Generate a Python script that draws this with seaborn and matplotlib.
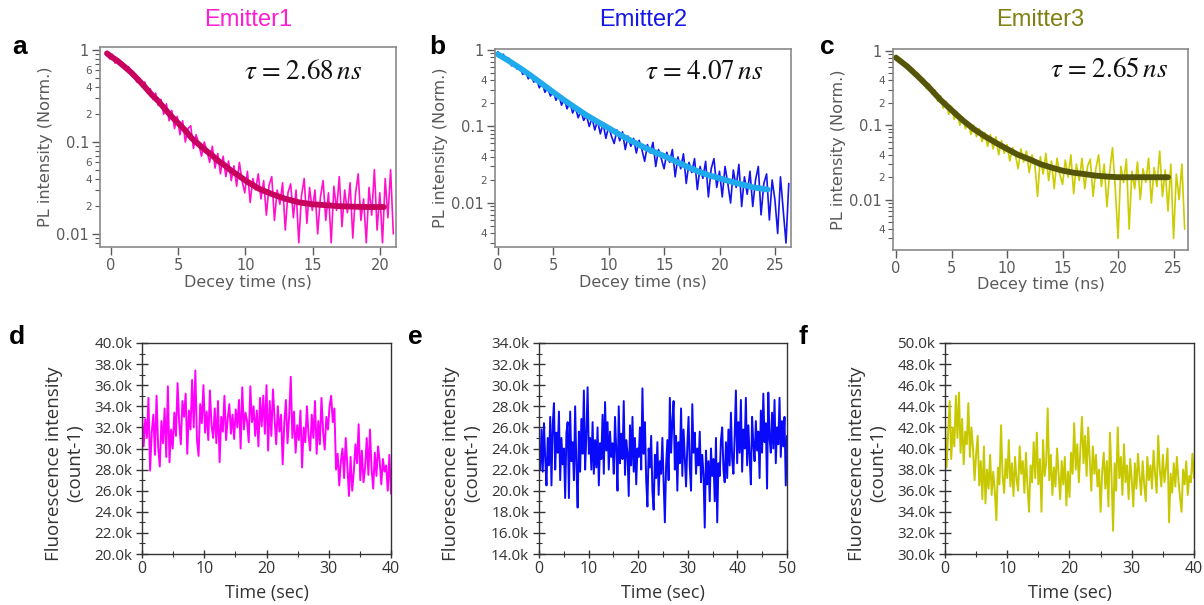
import numpy as np
import matplotlib
matplotlib.use("Agg")
import matplotlib.pyplot as plt
import seaborn as sns
from matplotlib.ticker import LogLocator, FixedLocator, FuncFormatter, MultipleLocator

sns.set_theme(style="ticks")
plt.rcParams['font.family'] = ['DejaVu Sans']
plt.rcParams['mathtext.fontset'] = 'stix'

# ---------------- data ----------------
titles = ["Emitter1", "Emitter2", "Emitter3"]
taus = ["2.68", "4.07", "2.65"]

# decay traces (PL intensity, normalized), uniformly sampled between start and end
a_t_range = [-0.3, 21.0]
a_pl = [0.95, 0.80, 0.90, 0.72, 0.80, 0.68, 0.70,
        0.60, 0.66, 0.53, 0.57, 0.45, 0.50, 0.40, 0.45, 0.34, 0.38,
        0.29, 0.34, 0.25, 0.29, 0.20, 0.26, 0.17, 0.22, 0.14, 0.19,
        0.12, 0.17, 0.10, 0.14, 0.15, 0.085, 0.12, 0.095, 0.07, 0.10,
        0.08, 0.06, 0.09, 0.052, 0.075, 0.045, 0.07, 0.042, 0.062, 0.038,
        0.055, 0.033, 0.06, 0.038, 0.028, 0.048, 0.022, 0.04, 0.03, 0.045,
        0.024, 0.038, 0.016, 0.034, 0.042, 0.014, 0.03, 0.021, 0.036, 0.011,
        0.028, 0.035, 0.015, 0.03, 0.008, 0.026, 0.04, 0.013, 0.032, 0.018,
        0.03, 0.01, 0.025, 0.038, 0.014, 0.028, 0.008, 0.033, 0.018, 0.042,
        0.012, 0.03, 0.017, 0.036, 0.009, 0.027, 0.045, 0.014, 0.024, 0.008,
        0.032, 0.016, 0.05, 0.011, 0.028, 0.008, 0.04, 0.015, 0.05, 0.01]
a_fit_t = [-0.3, 0, 0.5, 1, 1.5, 2, 2.5, 3, 3.5, 4, 4.5, 5, 5.5, 6, 6.5, 7, 7.5, 8,
           8.5, 9, 9.5, 10, 11, 12, 13, 14, 15, 16, 17, 18, 19, 20, 20.3]
a_fit_v = [0.92, 0.85, 0.76, 0.66, 0.57, 0.48, 0.40, 0.33, 0.28, 0.23, 0.19, 0.16,
           0.135, 0.11, 0.095, 0.082, 0.072, 0.062, 0.055, 0.048, 0.043, 0.038,
           0.031, 0.027, 0.024, 0.022, 0.021, 0.0205, 0.020, 0.0198, 0.0196, 0.0196, 0.0196]

b_t_range = [0.0, 26.2]
b_pl = [0.95, 0.80, 0.88, 0.72, 0.78, 0.62, 0.68, 0.56, 0.60, 0.48,
        0.53, 0.42, 0.48, 0.38, 0.42, 0.32, 0.38, 0.28, 0.32, 0.25,
        0.29, 0.22, 0.26, 0.19, 0.23, 0.17, 0.21, 0.15, 0.18, 0.13,
        0.16, 0.12, 0.14, 0.10, 0.13, 0.09, 0.12, 0.08, 0.11, 0.07,
        0.10, 0.075, 0.06, 0.09, 0.065, 0.085, 0.05, 0.075, 0.055, 0.07,
        0.045, 0.066, 0.05, 0.035, 0.058, 0.045, 0.062, 0.03, 0.05, 0.038,
        0.028, 0.046, 0.034, 0.05, 0.022, 0.04, 0.028, 0.044, 0.018, 0.034,
        0.025, 0.038, 0.015, 0.03, 0.021, 0.035, 0.012, 0.028, 0.038, 0.016,
        0.026, 0.012, 0.03, 0.018, 0.01, 0.027, 0.016, 0.032, 0.009, 0.022,
        0.013, 0.026, 0.009, 0.02, 0.03, 0.007, 0.018, 0.024, 0.006, 0.02,
        0.011, 0.004, 0.022, 0.008, 0.003, 0.018]
b_fit_t = [0, 1, 2, 3, 4, 5, 6, 7, 8, 9, 10, 11, 12, 13, 14, 15, 16, 17, 18, 19,
           20, 21, 22, 23, 24, 24.3]
b_fit_v = [0.88, 0.72, 0.58, 0.46, 0.36, 0.28, 0.22, 0.175, 0.14, 0.115, 0.095,
           0.078, 0.065, 0.055, 0.047, 0.041, 0.035, 0.030, 0.026, 0.023, 0.021,
           0.019, 0.0175, 0.016, 0.0152, 0.015]

c_t_range = [0.0, 26.0]
c_pl = [0.88, 0.74, 0.78, 0.64, 0.66, 0.54, 0.58, 0.46, 0.50, 0.38,
        0.42, 0.31, 0.36, 0.26, 0.30, 0.21, 0.25, 0.17, 0.21, 0.14,
        0.18, 0.12, 0.15, 0.10, 0.13, 0.09, 0.11, 0.075, 0.10, 0.07,
        0.09, 0.06, 0.08, 0.052, 0.075, 0.048, 0.07, 0.04, 0.062, 0.042,
        0.055, 0.033, 0.05, 0.04, 0.026, 0.048, 0.032, 0.045, 0.023, 0.04,
        0.03, 0.011, 0.038, 0.022, 0.042, 0.018, 0.033, 0.014, 0.036, 0.022,
        0.016, 0.034, 0.02, 0.04, 0.012, 0.03, 0.018, 0.036, 0.014, 0.028,
        0.035, 0.011, 0.026, 0.04, 0.015, 0.03, 0.008, 0.024, 0.05, 0.014,
        0.003, 0.028, 0.017, 0.035, 0.004, 0.024, 0.014, 0.032, 0.01, 0.026,
        0.017, 0.036, 0.009, 0.027, 0.015, 0.045, 0.011, 0.025, 0.007, 0.03,
        0.003, 0.022, 0.01, 0.03, 0.004]
c_fit_t = [0, 1, 2, 3, 4, 5, 6, 7, 8, 9, 10, 11, 12, 13, 14, 15, 16, 17, 18, 19,
           20, 22, 24.5]
c_fit_v = [0.81, 0.62, 0.45, 0.32, 0.22, 0.16, 0.117, 0.089, 0.071, 0.058, 0.048,
           0.040, 0.035, 0.030, 0.027, 0.0245, 0.023, 0.022, 0.021, 0.0204, 0.020,
           0.020, 0.020]

# blinking traces (fluorescence intensity in k counts), uniformly sampled
d_t_range = [0.0, 40.0]
d_k = [33.5, 30.2, 32.8, 31.0, 34.8, 27.9, 31.5, 33.2, 29.4, 35.0, 30.1, 28.3, 32.6, 30.5,
       33.8, 29.2, 35.9, 28.7, 31.8, 30.0, 33.4,
       31.2, 36.2, 32.5, 30.4, 34.5, 33.0, 35.2, 29.5, 33.6, 31.8, 36.5, 32.0, 37.4, 30.8,
       29.3, 34.2, 32.4, 36.0, 31.5,
       33.5, 30.8, 35.5, 32.2, 31.0, 33.8, 30.5, 34.5, 28.7, 33.0, 31.6, 35.0, 30.8, 32.8,
       34.2, 31.4, 33.2, 30.9, 33.7,
       32.0, 34.6, 30.0, 35.8, 31.8, 33.4, 32.6, 30.6, 35.9, 32.5, 34.0, 31.2, 33.6, 30.2,
       34.8, 32.1, 35.0, 31.4, 36.0,
       29.8, 34.5, 31.2, 35.6, 32.8, 30.4, 34.0, 31.6, 33.2, 28.5, 32.4, 34.6, 30.5, 33.0,
       36.8, 31.0, 33.5, 29.6, 32.2,
       30.8, 33.6, 28.2, 32.0, 30.6, 34.0, 31.2, 29.8, 33.2, 31.0, 34.5, 29.5, 32.6, 30.4,
       34.8, 31.6, 29.9, 33.0, 31.8,
       34.0, 35.0, 32.5, 33.8,
       28.0, 29.5, 26.5, 28.8, 30.0, 27.2, 31.0, 28.4, 25.5, 29.2, 26.0, 27.8, 30.4, 28.6,
       32.3, 27.0, 29.8, 26.8, 28.2, 31.0, 27.5, 31.8, 28.0, 26.2, 29.6, 27.4, 30.2, 28.8,
       26.6, 29.0, 27.8, 28.4, 26.0, 29.4, 25.7]

e_t_range = [0.0, 50.0]
e_k = [24.5, 22.0, 25.8, 21.8, 26.4, 23.0, 20.5, 25.0, 22.4, 27.0, 20.5, 26.2, 28.3, 22.0, 25.5, 23.6, 27.5, 21.0, 25.0, 22.5,
       24.0, 19.3, 25.5, 26.5, 19.3, 27.5, 22.8, 24.6, 21.0, 28.0, 22.4, 18.4, 25.6, 21.8, 26.8, 23.5, 29.5, 22.0, 25.2, 29.8,
       23.5, 25.0, 22.0, 26.5, 21.6, 24.8, 22.2, 26.0, 20.5, 24.5, 23.0, 27.2, 21.6, 28.4, 23.8, 26.5, 22.0, 25.6, 23.2, 24.5,
       21.6, 27.0, 23.8, 20.0, 28.0, 22.6, 25.4, 23.0, 28.5, 21.5, 24.8, 23.6, 19.5, 26.2, 22.4, 27.0, 21.8, 25.0, 20.6, 24.0,
       23.2, 26.0, 22.0, 29.7, 23.5, 26.5, 21.0, 18.5, 24.0, 22.2, 25.2, 20.0, 18.2, 23.4, 21.2, 24.6, 19.6, 22.8, 21.6, 25.0,
       20.8, 17.0, 22.4, 24.8, 21.0, 28.8, 23.6, 26.5, 28.5, 22.0, 25.2, 20.0, 24.6, 22.6, 27.8, 21.4, 25.8, 23.2, 20.4, 24.2,
       27.0, 22.2, 20.0, 28.2, 23.6, 25.5, 21.6, 24.0, 22.4, 25.6, 20.8, 23.4, 21.5, 16.5, 23.8, 20.6, 22.8, 19.0, 24.0, 21.4,
       23.0, 19.0, 25.0, 17.0, 22.6, 21.4, 24.8, 26.0, 22.0, 20.8, 24.6, 21.2, 25.8, 22.4, 27.4, 23.0, 21.6, 25.2, 29.5, 22.6,
       26.5, 23.6, 28.6, 21.8, 25.8, 24.0, 28.8, 22.4, 26.2, 23.2, 20.6, 27.0, 24.4, 22.8, 26.6, 23.8, 25.6, 21.2, 27.6, 23.6,
       29.2, 24.6, 26.4, 20.2, 29.3, 25.0, 23.6, 27.4, 24.0, 28.6, 22.6, 26.0, 24.4, 28.8, 23.2, 26.6, 24.2, 27.0, 20.5, 25.2]

f_t_range = [0.0, 40.0]
f_k = [42.5, 38.2, 41.5, 44.5, 39.0, 42.0, 40.2, 45.0, 41.0, 45.3, 39.6, 42.8, 38.5, 41.6, 40.4, 44.3, 39.2, 42.0, 40.0, 37.0,
       39.5, 41.2, 36.5, 38.8, 35.2, 40.2, 34.8, 38.0, 36.2, 39.4, 35.6, 37.8, 36.0, 33.2, 38.2, 36.6, 42.2, 37.4, 35.8, 39.0,
       37.2, 40.8, 36.4, 38.6, 35.5, 39.2, 37.0, 36.0, 40.2, 37.6, 38.8, 35.8, 39.6, 36.4, 34.0, 38.4, 36.8, 40.6, 37.2, 41.5,
       36.6, 39.0, 34.0, 40.8, 37.4, 38.6, 43.8, 37.0, 39.4, 35.6, 38.2, 36.4, 40.0, 37.6, 35.2, 38.8, 36.6, 39.2, 34.6, 37.8,
       35.4, 39.6, 37.6, 42.4, 38.0, 40.4, 36.8, 39.8, 43.0, 38.6, 41.2, 37.4, 42.0, 39.0, 36.0, 40.2, 37.6, 39.4, 36.4, 38.0,
       34.0, 37.8, 39.6, 36.2, 38.8, 34.5, 41.5, 37.4, 32.2, 38.6, 36.0, 42.0, 37.2, 39.2, 35.6, 40.4, 36.8, 38.4, 35.2, 39.0,
       37.0, 34.5, 38.6, 36.2, 39.5, 37.4, 35.6, 38.8, 36.6, 35.0, 39.2, 37.0, 38.4, 36.2, 39.8, 37.6, 35.8, 41.2, 38.0, 36.4,
       39.4, 36.8, 38.2, 40.0, 33.0, 37.6, 35.8, 38.6, 36.4, 39.2, 37.0, 35.4, 34.0, 38.0, 36.6, 38.8, 35.6, 37.4, 36.8, 39.5, 37.2]

# ---------------- styling ----------------
W, H = 1204, 605
fig = plt.figure(figsize=(W / 100, H / 100), dpi=100)


def px_axes(l, r, t, b):
    return fig.add_axes([l / W, 1 - b / H, (r - l) / W, (b - t) / H])


top_specs = [
    dict(box=(100, 396, 47, 247), t=a_t_range, y=a_pl, ft=a_fit_t, fv=a_fit_v,
         c="#FF10CC", fc="#C8005E", xlim=(-0.82, 21.2), ylim=(0.0072, 1.08),
         xt=[0, 5, 10, 15, 20], minor_lab={2, 4, 6}, tau_r=362, tau_y=72,
         title_c="#FF1ED2", lab="a", lab_xy=(20, 47)),
    dict(box=(495, 791, 49, 247), t=b_t_range, y=b_pl, ft=b_fit_t, fv=b_fit_v,
         c="#1414F0", fc="#20AAEE", xlim=(-0.25, 26.4), ylim=(0.00266, 1.03),
         xt=[0, 5, 10, 15, 20, 25], minor_lab={2, 4}, tau_r=763, tau_y=72,
         title_c="#1616E8", lab="b", lab_xy=(437, 47)),
    dict(box=(893, 1188, 49, 250), t=c_t_range, y=c_pl, ft=c_fit_t, fv=c_fit_v,
         c="#CCCC00", fc="#55550A", xlim=(-0.27, 26.3), ylim=(0.0021, 1.06),
         xt=[0, 5, 10, 15, 20, 25], minor_lab={2, 4}, tau_r=1168, tau_y=70,
         title_c="#808014", lab="c", lab_xy=(827, 47)),
]

gray = "#5a5a5a"
for i, s in enumerate(top_specs):
    ax = px_axes(*s["box"])
    tt = np.linspace(s["t"][0], s["t"][1], len(s["y"]))
    sns.lineplot(x=tt, y=s["y"], ax=ax, color=s["c"], linewidth=1.2, sort=False,
                 estimator=None)
    sns.lineplot(x=s["ft"], y=s["fv"], ax=ax, color=s["fc"], linewidth=4.2,
                 sort=False, estimator=None)
    ax.set_yscale("log")
    ax.set_xlim(*s["xlim"])
    ax.set_ylim(*s["ylim"])
    ax.set_xticks(s["xt"])
    ax.yaxis.set_major_locator(FixedLocator([0.01, 0.1, 1]))
    ax.set_yticklabels(["0.01", "0.1", "1"])
    ax.yaxis.set_minor_locator(LogLocator(base=10, subs=np.arange(2, 10)))
    ml = s["minor_lab"]

    def fmt(v, pos, ml=ml):
        m = v / 10 ** np.floor(np.log10(v) + 1e-9)
        k = int(round(m))
        return str(k) if k in ml else ""
    ax.yaxis.set_minor_formatter(FuncFormatter(fmt))
    for sp in ax.spines.values():
        sp.set_visible(True)
        sp.set_color("#8a8a8a")
        sp.set_linewidth(1.2)
    ax.tick_params(axis="both", which="major", direction="out", length=6, width=1,
                   color=gray, labelcolor=gray, labelsize=10.5, pad=2)
    ax.tick_params(axis="y", which="minor", direction="out", length=3.5, width=0.8,
                   color=gray, labelcolor=gray, labelsize=7.5, pad=2)
    ax.set_xlabel("Decey time (ns)", color=gray, fontsize=11.5, labelpad=1)
    ax.set_ylabel("PL intensity (Norm.)", color=gray, fontsize=11.6, labelpad=2)
    ax.text(s["tau_r"] / W, 1 - s["tau_y"] / H,
            r"$\tau\;\!=\;\!%s\,ns$" % taus[i],
            transform=fig.transFigure, ha="right", va="center", fontsize=19.5,
            color="#111111")
    l, r, t, b = s["box"]
    fig.text((l + r) / 2 / W, 1 - 20 / H, titles[i], ha="center", va="center",
             color=s["title_c"], fontsize=17, family=["Liberation Sans"])
    fig.text(s["lab_xy"][0] / W, 1 - s["lab_xy"][1] / H, s["lab"], ha="center",
             va="center", fontsize=19, fontweight="bold", color="black",
             family=["Liberation Sans"])

bottom_specs = [
    dict(box=(142, 391, 343, 554), t=d_t_range, y=d_k, c="#FF00FF", xlim=(0, 40),
         ylim=(20, 40), xmaj=10, lab="d", lab_xy=(17, 337)),
    dict(box=(539, 787, 343, 554), t=e_t_range, y=e_k, c="#0A0AFA", xlim=(0, 50),
         ylim=(14, 34), xmaj=10, lab="e", lab_xy=(415, 337)),
    dict(box=(945, 1194, 343, 554), t=f_t_range, y=f_k, c="#C8C800", xlim=(0, 40),
         ylim=(30, 50), xmaj=10, lab="f", lab_xy=(803, 337)),
]

dark = "#333333"
osans = ["Open Sans", "DejaVu Sans"]
for s in bottom_specs:
    ax = px_axes(*s["box"])
    tt = np.linspace(s["t"][0], s["t"][1], len(s["y"]))
    sns.lineplot(x=tt, y=s["y"], ax=ax, color=s["c"], linewidth=1.4, sort=False,
                 estimator=None)
    ax.set_xlim(*s["xlim"])
    ax.set_ylim(*s["ylim"])
    ax.xaxis.set_major_locator(MultipleLocator(s["xmaj"]))
    ax.xaxis.set_minor_locator(MultipleLocator(s["xmaj"] / 2))
    ax.yaxis.set_major_locator(MultipleLocator(2))
    ax.yaxis.set_minor_locator(MultipleLocator(1))
    ax.yaxis.set_major_formatter(FuncFormatter(lambda v, p: "%.1fk" % v))
    for sp in ax.spines.values():
        sp.set_visible(True)
        sp.set_color(dark)
        sp.set_linewidth(1.0)
    ax.tick_params(axis="y", which="major", direction="inout", length=8, width=1,
                   color=dark, labelcolor=dark, labelsize=11, pad=3,
                   labelfontfamily="Open Sans")
    ax.tick_params(axis="x", which="major", direction="inout", length=6, width=1,
                   color=dark, labelcolor=dark, labelsize=11.5, pad=2,
                   labelfontfamily="Open Sans")
    ax.tick_params(axis="both", which="minor", direction="inout", length=4,
                   width=0.8, color=dark)
    ax.set_xlabel("Time (sec)", color=dark, fontsize=13, labelpad=5, family=osans)
    ax.set_ylabel("Fluorescence intensity\n(count-1)", color=dark, fontsize=13.5,
                  labelpad=7, linespacing=1.25, family=osans)
    ax.yaxis.label.set_y(0.43)
    fig.text(s["lab_xy"][0] / W, 1 - s["lab_xy"][1] / H, s["lab"], ha="center",
             va="center", fontsize=19, fontweight="bold", color="black",
             family=["Liberation Sans"])

fig.savefig("out.png", dpi=100)
